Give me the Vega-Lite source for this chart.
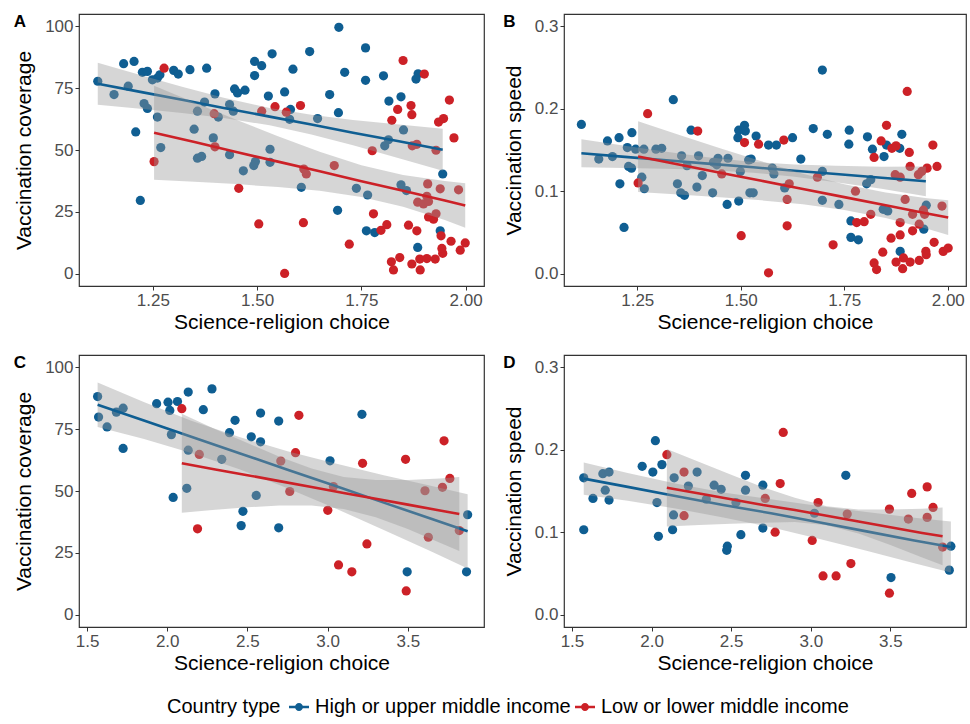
{
"$schema":"https://vega.github.io/schema/vega-lite/v6.json",
"padding":{"left":13,"top":12,"right":2,"bottom":4},
"background":"white",
"config":{"font":"Liberation Sans","view":{"stroke":"#333333","strokeWidth":1.2},
"axis":{"grid":false,"domain":false,"tickColor":"#333333","tickSize":4,"labelColor":"#4d4d4d","labelFontSize":17,"titleFontSize":21,"titleFontWeight":"normal","titleColor":"#000000","labelPadding":2,"titlePadding":3},
"axisY":{"titlePadding":10},
"title":{"fontSize":17,"fontWeight":"bold","anchor":"start","frame":"bounds","baseline":"top","offset":-17}},
"datasets":{
"pts":[
{"p":"A","t":"H","x":1.118,"y":77.8},{"p":"A","t":"H","x":1.157,"y":72.4},{"p":"A","t":"H","x":1.18,"y":84.9},{"p":"A","t":"H","x":1.205,"y":85.8},{"p":"A","t":"H","x":1.191,"y":75.8},{"p":"A","t":"H","x":1.225,"y":81.4},{"p":"A","t":"H","x":1.237,"y":81.8},{"p":"A","t":"H","x":1.249,"y":78.4},{"p":"A","t":"H","x":1.261,"y":79.1},{"p":"A","t":"H","x":1.267,"y":80.4},{"p":"A","t":"H","x":1.3,"y":82.2},{"p":"A","t":"H","x":1.311,"y":80.7},{"p":"A","t":"H","x":1.339,"y":82.5},{"p":"A","t":"H","x":1.379,"y":83.1},{"p":"A","t":"H","x":1.229,"y":68.8},{"p":"A","t":"H","x":1.237,"y":66.8},{"p":"A","t":"H","x":1.261,"y":63.3},{"p":"A","t":"H","x":1.209,"y":57.3},{"p":"A","t":"H","x":1.269,"y":51.0},{"p":"A","t":"H","x":1.22,"y":29.6},{"p":"A","t":"H","x":1.349,"y":58.4},{"p":"A","t":"H","x":1.357,"y":65.7},{"p":"A","t":"H","x":1.374,"y":69.4},{"p":"A","t":"H","x":1.399,"y":72.7},{"p":"A","t":"H","x":1.407,"y":63.3},{"p":"A","t":"H","x":1.395,"y":54.9},{"p":"A","t":"H","x":1.357,"y":46.7},{"p":"A","t":"H","x":1.367,"y":47.4},{"p":"A","t":"H","x":1.434,"y":48.1},{"p":"A","t":"H","x":1.434,"y":68.4},{"p":"A","t":"H","x":1.443,"y":65.7},{"p":"A","t":"H","x":1.446,"y":74.7},{"p":"A","t":"H","x":1.453,"y":73.1},{"p":"A","t":"H","x":1.471,"y":74.2},{"p":"A","t":"H","x":1.467,"y":41.6},{"p":"A","t":"H","x":1.492,"y":43.7},{"p":"A","t":"H","x":1.496,"y":45.3},{"p":"A","t":"H","x":1.494,"y":80.1},{"p":"A","t":"H","x":1.494,"y":85.8},{"p":"A","t":"H","x":1.511,"y":84.1},{"p":"A","t":"H","x":1.536,"y":88.9},{"p":"A","t":"H","x":1.527,"y":71.8},{"p":"A","t":"H","x":1.531,"y":50.3},{"p":"A","t":"H","x":1.531,"y":45.0},{"p":"A","t":"H","x":1.566,"y":73.5},
{"p":"A","t":"H","x":1.696,"y":99.6},{"p":"A","t":"H","x":1.626,"y":89.8},{"p":"A","t":"H","x":1.586,"y":82.7},{"p":"A","t":"H","x":1.58,"y":66.4},{"p":"A","t":"H","x":1.578,"y":62.4},{"p":"A","t":"H","x":1.645,"y":62.7},{"p":"A","t":"H","x":1.674,"y":72.4},{"p":"A","t":"H","x":1.695,"y":65.1},{"p":"A","t":"H","x":1.71,"y":81.4},{"p":"A","t":"H","x":1.76,"y":91.3},{"p":"A","t":"H","x":1.76,"y":78.2},{"p":"A","t":"H","x":1.803,"y":80.0},{"p":"A","t":"H","x":1.886,"y":80.8},{"p":"A","t":"H","x":1.881,"y":78.7},{"p":"A","t":"H","x":1.816,"y":69.8},{"p":"A","t":"H","x":1.845,"y":71.5},{"p":"A","t":"H","x":1.851,"y":58.1},{"p":"A","t":"H","x":1.815,"y":54.1},{"p":"A","t":"H","x":1.806,"y":51.7},{"p":"A","t":"H","x":1.945,"y":40.3},{"p":"A","t":"H","x":1.606,"y":34.9},{"p":"A","t":"H","x":1.738,"y":34.5},{"p":"A","t":"H","x":1.765,"y":31.8},{"p":"A","t":"H","x":1.845,"y":35.9},{"p":"A","t":"H","x":1.858,"y":33.6},{"p":"A","t":"H","x":1.693,"y":25.6},{"p":"A","t":"H","x":1.762,"y":17.3},{"p":"A","t":"H","x":1.782,"y":16.6},{"p":"A","t":"H","x":1.939,"y":17.3},{"p":"A","t":"H","x":1.885,"y":10.6},
{"p":"A","t":"L","x":1.277,"y":83.1},{"p":"A","t":"L","x":1.253,"y":45.3},{"p":"A","t":"L","x":1.397,"y":64.7},{"p":"A","t":"L","x":1.399,"y":51.3},{"p":"A","t":"L","x":1.456,"y":34.5},{"p":"A","t":"L","x":1.504,"y":20.1},{"p":"A","t":"L","x":1.511,"y":65.7},{"p":"A","t":"L","x":1.543,"y":67.5},{"p":"A","t":"L","x":1.566,"y":0.1},{"p":"A","t":"L","x":1.57,"y":65.3},{"p":"A","t":"L","x":1.604,"y":68.0},{"p":"A","t":"L","x":1.85,"y":86.2},{"p":"A","t":"L","x":1.901,"y":80.7},{"p":"A","t":"L","x":1.837,"y":66.4},{"p":"A","t":"L","x":1.869,"y":68.0},{"p":"A","t":"L","x":1.871,"y":64.3},{"p":"A","t":"L","x":1.823,"y":62.0},{"p":"A","t":"L","x":1.961,"y":70.2},{"p":"A","t":"L","x":1.935,"y":61.3},{"p":"A","t":"L","x":1.947,"y":62.7},{"p":"A","t":"L","x":1.972,"y":54.9},{"p":"A","t":"L","x":1.776,"y":49.7},{"p":"A","t":"L","x":1.872,"y":51.7},{"p":"A","t":"L","x":1.883,"y":52.3},{"p":"A","t":"L","x":1.929,"y":49.9},{"p":"A","t":"L","x":1.612,"y":42.3},{"p":"A","t":"L","x":1.618,"y":40.3},{"p":"A","t":"L","x":1.685,"y":43.7},{"p":"A","t":"L","x":1.909,"y":36.3},{"p":"A","t":"L","x":1.939,"y":34.3},{"p":"A","t":"L","x":1.983,"y":33.9},{"p":"A","t":"L","x":1.885,"y":28.9},{"p":"A","t":"L","x":1.899,"y":28.2},{"p":"A","t":"L","x":1.911,"y":29.2},{"p":"A","t":"L","x":1.907,"y":31.3},{"p":"A","t":"L","x":1.911,"y":22.9},{"p":"A","t":"L","x":1.923,"y":22.0},{"p":"A","t":"L","x":1.929,"y":24.2},{"p":"A","t":"L","x":1.779,"y":24.2},{"p":"A","t":"L","x":1.611,"y":20.6},{"p":"A","t":"L","x":1.797,"y":17.5},{"p":"A","t":"L","x":1.811,"y":19.8},{"p":"A","t":"L","x":1.863,"y":19.6},{"p":"A","t":"L","x":1.883,"y":17.3},{"p":"A","t":"L","x":1.941,"y":15.3},{"p":"A","t":"L","x":1.965,"y":13.1},{"p":"A","t":"L","x":1.999,"y":12.4},{"p":"A","t":"L","x":1.987,"y":9.5},{"p":"A","t":"L","x":1.721,"y":11.9},{"p":"A","t":"L","x":1.822,"y":4.8},{"p":"A","t":"L","x":1.842,"y":6.5},{"p":"A","t":"L","x":1.827,"y":1.5},{"p":"A","t":"L","x":1.871,"y":3.9},{"p":"A","t":"L","x":1.89,"y":5.9},{"p":"A","t":"L","x":1.907,"y":6.1},{"p":"A","t":"L","x":1.891,"y":1.5},{"p":"A","t":"L","x":1.927,"y":5.9},{"p":"A","t":"L","x":1.945,"y":8.2},{"p":"A","t":"L","x":1.943,"y":10.2},
{"p":"B","t":"H","x":1.115,"y":0.181},{"p":"B","t":"H","x":1.157,"y":0.139},{"p":"B","t":"H","x":1.178,"y":0.161},{"p":"B","t":"H","x":1.19,"y":0.142},{"p":"B","t":"H","x":1.206,"y":0.165},{"p":"B","t":"H","x":1.208,"y":0.109},{"p":"B","t":"H","x":1.218,"y":0.056},{"p":"B","t":"H","x":1.226,"y":0.153},{"p":"B","t":"H","x":1.229,"y":0.13},{"p":"B","t":"H","x":1.236,"y":0.128},{"p":"B","t":"H","x":1.237,"y":0.171},{"p":"B","t":"H","x":1.246,"y":0.151},{"p":"B","t":"H","x":1.261,"y":0.117},{"p":"B","t":"H","x":1.267,"y":0.103},{"p":"B","t":"H","x":1.266,"y":0.151},{"p":"B","t":"H","x":1.295,"y":0.151},{"p":"B","t":"H","x":1.309,"y":0.152},{"p":"B","t":"H","x":1.337,"y":0.211},{"p":"B","t":"H","x":1.347,"y":0.109},{"p":"B","t":"H","x":1.355,"y":0.098},{"p":"B","t":"H","x":1.364,"y":0.095},{"p":"B","t":"H","x":1.357,"y":0.143},{"p":"B","t":"H","x":1.37,"y":0.131},{"p":"B","t":"H","x":1.38,"y":0.174},{"p":"B","t":"H","x":1.398,"y":0.143},{"p":"B","t":"H","x":1.394,"y":0.105},{"p":"B","t":"H","x":1.407,"y":0.119},{"p":"B","t":"H","x":1.432,"y":0.098},{"p":"B","t":"H","x":1.434,"y":0.135},{"p":"B","t":"H","x":1.445,"y":0.14},{"p":"B","t":"H","x":1.442,"y":0.132},{"p":"B","t":"H","x":1.469,"y":0.14},{"p":"B","t":"H","x":1.467,"y":0.084},{"p":"B","t":"H","x":1.495,"y":0.088},{"p":"B","t":"H","x":1.493,"y":0.165},{"p":"B","t":"H","x":1.495,"y":0.174},{"p":"B","t":"H","x":1.509,"y":0.18},{"p":"B","t":"H","x":1.519,"y":0.138},{"p":"B","t":"H","x":1.499,"y":0.124},{"p":"B","t":"H","x":1.522,"y":0.098},
{"p":"B","t":"H","x":1.511,"y":0.173},{"p":"B","t":"H","x":1.525,"y":0.139},{"p":"B","t":"H","x":1.53,"y":0.098},{"p":"B","t":"H","x":1.537,"y":0.167},{"p":"B","t":"H","x":1.567,"y":0.156},{"p":"B","t":"H","x":1.586,"y":0.156},{"p":"B","t":"H","x":1.576,"y":0.128},{"p":"B","t":"H","x":1.58,"y":0.121},{"p":"B","t":"H","x":1.625,"y":0.165},{"p":"B","t":"H","x":1.606,"y":0.104},{"p":"B","t":"H","x":1.645,"y":0.139},{"p":"B","t":"H","x":1.675,"y":0.176},{"p":"B","t":"H","x":1.697,"y":0.247},{"p":"B","t":"H","x":1.709,"y":0.169},{"p":"B","t":"H","x":1.697,"y":0.124},{"p":"B","t":"H","x":1.697,"y":0.089},{"p":"B","t":"H","x":1.737,"y":0.084},{"p":"B","t":"H","x":1.762,"y":0.174},{"p":"B","t":"H","x":1.761,"y":0.157},{"p":"B","t":"H","x":1.766,"y":0.064},{"p":"B","t":"H","x":1.766,"y":0.044},{"p":"B","t":"H","x":1.784,"y":0.041},{"p":"B","t":"H","x":1.806,"y":0.166},{"p":"B","t":"H","x":1.818,"y":0.151},{"p":"B","t":"H","x":1.804,"y":0.109},{"p":"B","t":"H","x":1.814,"y":0.114},{"p":"B","t":"H","x":1.846,"y":0.142},{"p":"B","t":"H","x":1.852,"y":0.156},{"p":"B","t":"H","x":1.884,"y":0.152},{"p":"B","t":"H","x":1.889,"y":0.169},{"p":"B","t":"H","x":1.844,"y":0.078},{"p":"B","t":"H","x":1.855,"y":0.076},{"p":"B","t":"H","x":1.942,"y":0.054},{"p":"B","t":"H","x":1.885,"y":0.027},{"p":"B","t":"H","x":1.948,"y":0.083},
{"p":"B","t":"L","x":1.252,"y":0.11},{"p":"B","t":"L","x":1.275,"y":0.194},{"p":"B","t":"L","x":1.396,"y":0.173},{"p":"B","t":"L","x":1.454,"y":0.121},{"p":"B","t":"L","x":1.509,"y":0.159},{"p":"B","t":"L","x":1.501,"y":0.046},{"p":"B","t":"L","x":1.543,"y":0.157},{"p":"B","t":"L","x":1.567,"y":0.001},{"p":"B","t":"L","x":1.604,"y":0.162},{"p":"B","t":"L","x":1.612,"y":0.09},{"p":"B","t":"L","x":1.617,"y":0.109},{"p":"B","t":"L","x":1.612,"y":0.058},{"p":"B","t":"L","x":1.685,"y":0.117},{"p":"B","t":"L","x":1.723,"y":0.035},{"p":"B","t":"L","x":1.777,"y":0.1},{"p":"B","t":"L","x":1.78,"y":0.062},{"p":"B","t":"L","x":1.798,"y":0.063},{"p":"B","t":"L","x":1.814,"y":0.072},{"p":"B","t":"L","x":1.822,"y":0.141},{"p":"B","t":"L","x":1.852,"y":0.18},{"p":"B","t":"L","x":1.839,"y":0.161},{"p":"B","t":"L","x":1.865,"y":0.152},{"p":"B","t":"L","x":1.875,"y":0.155},{"p":"B","t":"L","x":1.907,"y":0.147},{"p":"B","t":"L","x":1.902,"y":0.221},{"p":"B","t":"L","x":1.909,"y":0.13},{"p":"B","t":"L","x":1.873,"y":0.12},{"p":"B","t":"L","x":1.885,"y":0.117},{"p":"B","t":"L","x":1.897,"y":0.09},{"p":"B","t":"L","x":1.915,"y":0.072},{"p":"B","t":"L","x":1.931,"y":0.06},{"p":"B","t":"L","x":1.915,"y":0.052},{"p":"B","t":"L","x":1.885,"y":0.062},{"p":"B","t":"L","x":1.863,"y":0.043},{"p":"B","t":"L","x":1.885,"y":0.047},{"p":"B","t":"L","x":1.843,"y":0.026},{"p":"B","t":"L","x":1.822,"y":0.013},{"p":"B","t":"L","x":1.828,"y":0.005},{"p":"B","t":"L","x":1.875,"y":0.014},{"p":"B","t":"L","x":1.893,"y":0.019},{"p":"B","t":"L","x":1.891,"y":0.006},{"p":"B","t":"L","x":1.909,"y":0.014},{"p":"B","t":"L","x":1.931,"y":0.016},{"p":"B","t":"L","x":1.947,"y":0.027},{"p":"B","t":"L","x":1.948,"y":0.023},{"p":"B","t":"L","x":1.967,"y":0.038},{"p":"B","t":"L","x":1.989,"y":0.027},{"p":"B","t":"L","x":2.001,"y":0.031},{"p":"B","t":"L","x":1.944,"y":0.072},{"p":"B","t":"L","x":1.929,"y":0.12},{"p":"B","t":"L","x":1.937,"y":0.124},{"p":"B","t":"L","x":1.95,"y":0.128},{"p":"B","t":"L","x":1.941,"y":0.077},{"p":"B","t":"L","x":1.986,"y":0.082},{"p":"B","t":"L","x":1.974,"y":0.13},{"p":"B","t":"L","x":1.964,"y":0.156},
{"p":"C","t":"H","x":1.566,"y":88.2},{"p":"C","t":"H","x":1.572,"y":79.9},{"p":"C","t":"H","x":1.625,"y":75.9},{"p":"C","t":"H","x":1.683,"y":81.9},{"p":"C","t":"H","x":1.725,"y":83.5},{"p":"C","t":"H","x":1.725,"y":67.2},{"p":"C","t":"H","x":1.934,"y":85.3},{"p":"C","t":"H","x":2.005,"y":85.9},{"p":"C","t":"H","x":2.016,"y":82.6},{"p":"C","t":"H","x":2.064,"y":86.2},{"p":"C","t":"H","x":2.131,"y":90.0},{"p":"C","t":"H","x":2.225,"y":82.9},{"p":"C","t":"H","x":2.279,"y":91.3},{"p":"C","t":"H","x":2.026,"y":72.8},{"p":"C","t":"H","x":2.131,"y":66.5},{"p":"C","t":"H","x":2.34,"y":62.8},{"p":"C","t":"H","x":2.388,"y":73.6},{"p":"C","t":"H","x":2.423,"y":78.6},{"p":"C","t":"H","x":2.524,"y":71.9},{"p":"C","t":"H","x":2.582,"y":69.9},{"p":"C","t":"H","x":2.582,"y":81.5},{"p":"C","t":"H","x":2.695,"y":78.3},{"p":"C","t":"H","x":2.037,"y":47.4},{"p":"C","t":"H","x":2.122,"y":51.1},{"p":"C","t":"H","x":2.472,"y":41.8},{"p":"C","t":"H","x":2.461,"y":36.0},{"p":"C","t":"H","x":2.555,"y":48.2},{"p":"C","t":"H","x":2.695,"y":35.1},{"p":"C","t":"H","x":3.015,"y":62.2},{"p":"C","t":"H","x":3.214,"y":81.0},{"p":"C","t":"H","x":3.873,"y":40.4},{"p":"C","t":"H","x":3.866,"y":17.3},{"p":"C","t":"H","x":3.496,"y":17.3},
{"p":"C","t":"L","x":2.091,"y":83.3},{"p":"C","t":"L","x":2.2,"y":64.8},{"p":"C","t":"L","x":2.189,"y":34.7},{"p":"C","t":"L","x":2.708,"y":62.1},{"p":"C","t":"L","x":2.764,"y":49.8},{"p":"C","t":"L","x":2.821,"y":80.6},{"p":"C","t":"L","x":3.726,"y":70.3},{"p":"C","t":"L","x":2.8,"y":65.5},{"p":"C","t":"L","x":3.036,"y":51.8},{"p":"C","t":"L","x":3.001,"y":42.2},{"p":"C","t":"L","x":3.218,"y":61.2},{"p":"C","t":"L","x":3.486,"y":62.8},{"p":"C","t":"L","x":3.607,"y":50.1},{"p":"C","t":"L","x":3.716,"y":51.5},{"p":"C","t":"L","x":3.762,"y":55.1},{"p":"C","t":"L","x":3.628,"y":31.3},{"p":"C","t":"L","x":3.821,"y":34.0},{"p":"C","t":"L","x":3.49,"y":9.6},{"p":"C","t":"L","x":3.245,"y":28.6},{"p":"C","t":"L","x":3.068,"y":20.1},{"p":"C","t":"L","x":3.151,"y":17.3},
{"p":"D","t":"H","x":1.574,"y":0.166},{"p":"D","t":"H","x":1.574,"y":0.103},{"p":"D","t":"H","x":1.632,"y":0.141},{"p":"D","t":"H","x":1.694,"y":0.171},{"p":"D","t":"H","x":1.733,"y":0.173},{"p":"D","t":"H","x":1.709,"y":0.151},{"p":"D","t":"H","x":1.733,"y":0.139},{"p":"D","t":"H","x":1.941,"y":0.18},{"p":"D","t":"H","x":2.008,"y":0.173},{"p":"D","t":"H","x":2.024,"y":0.211},{"p":"D","t":"H","x":2.065,"y":0.182},{"p":"D","t":"H","x":2.034,"y":0.136},{"p":"D","t":"H","x":2.043,"y":0.095},{"p":"D","t":"H","x":2.142,"y":0.166},{"p":"D","t":"H","x":2.138,"y":0.121},{"p":"D","t":"H","x":2.132,"y":0.103},{"p":"D","t":"H","x":2.231,"y":0.156},{"p":"D","t":"H","x":2.286,"y":0.173},{"p":"D","t":"H","x":2.344,"y":0.14},{"p":"D","t":"H","x":2.393,"y":0.157},{"p":"D","t":"H","x":2.437,"y":0.152},{"p":"D","t":"H","x":2.476,"y":0.083},{"p":"D","t":"H","x":2.472,"y":0.078},{"p":"D","t":"H","x":2.53,"y":0.136},{"p":"D","t":"H","x":2.561,"y":0.097},{"p":"D","t":"H","x":2.59,"y":0.169},{"p":"D","t":"H","x":2.59,"y":0.151},{"p":"D","t":"H","x":2.699,"y":0.157},{"p":"D","t":"H","x":2.699,"y":0.105},{"p":"D","t":"H","x":3.023,"y":0.123},{"p":"D","t":"H","x":3.22,"y":0.169},{"p":"D","t":"H","x":3.504,"y":0.045},{"p":"D","t":"H","x":3.88,"y":0.083},{"p":"D","t":"H","x":3.87,"y":0.054},
{"p":"D","t":"L","x":2.096,"y":0.194},{"p":"D","t":"L","x":2.204,"y":0.173},{"p":"D","t":"L","x":2.204,"y":0.12},{"p":"D","t":"L","x":2.714,"y":0.141},{"p":"D","t":"L","x":2.776,"y":0.1},{"p":"D","t":"L","x":2.808,"y":0.159},{"p":"D","t":"L","x":2.827,"y":0.221},{"p":"D","t":"L","x":3.009,"y":0.09},{"p":"D","t":"L","x":3.046,"y":0.136},{"p":"D","t":"L","x":3.077,"y":0.047},{"p":"D","t":"L","x":3.159,"y":0.047},{"p":"D","t":"L","x":3.252,"y":0.062},{"p":"D","t":"L","x":3.229,"y":0.122},{"p":"D","t":"L","x":3.494,"y":0.128},{"p":"D","t":"L","x":3.494,"y":0.026},{"p":"D","t":"L","x":3.613,"y":0.116},{"p":"D","t":"L","x":3.634,"y":0.147},{"p":"D","t":"L","x":3.731,"y":0.155},{"p":"D","t":"L","x":3.731,"y":0.118},{"p":"D","t":"L","x":3.768,"y":0.13},{"p":"D","t":"L","x":3.828,"y":0.082}
],
"fit":[
{"p":"A","t":"H","x":1.118,"f":76.8,"lo":68.3,"hi":85.3},{"p":"A","t":"H","x":1.22,"f":73.5,"lo":66.7,"hi":80.3},{"p":"A","t":"H","x":1.32,"f":70.3,"lo":65.0,"hi":75.6},{"p":"A","t":"H","x":1.42,"f":67.0,"lo":62.9,"hi":71.1},{"p":"A","t":"H","x":1.53,"f":63.5,"lo":60.0,"hi":67.0},{"p":"A","t":"H","x":1.63,"f":60.3,"lo":56.3,"hi":64.3},{"p":"A","t":"H","x":1.73,"f":57.0,"lo":51.9,"hi":62.1},{"p":"A","t":"H","x":1.84,"f":53.5,"lo":46.7,"hi":60.3},{"p":"A","t":"H","x":1.945,"f":50.1,"lo":41.6,"hi":58.6},
{"p":"A","t":"L","x":1.253,"f":57.0,"lo":38.0,"hi":76.0},{"p":"A","t":"L","x":1.35,"f":53.2,"lo":37.2,"hi":69.2},{"p":"A","t":"L","x":1.45,"f":49.2,"lo":36.2,"hi":62.2},{"p":"A","t":"L","x":1.55,"f":45.3,"lo":35.0,"hi":55.6},{"p":"A","t":"L","x":1.65,"f":41.4,"lo":33.5,"hi":49.3},{"p":"A","t":"L","x":1.75,"f":37.4,"lo":31.0,"hi":43.8},{"p":"A","t":"L","x":1.85,"f":33.5,"lo":27.1,"hi":39.9},{"p":"A","t":"L","x":1.95,"f":29.6,"lo":21.7,"hi":37.5},{"p":"A","t":"L","x":1.999,"f":27.6,"lo":18.6,"hi":36.6},
{"p":"B","t":"H","x":1.115,"f":0.146,"lo":0.129,"hi":0.163},{"p":"B","t":"H","x":1.22,"f":0.1417,"lo":0.1283,"hi":0.1551},{"p":"B","t":"H","x":1.32,"f":0.1376,"lo":0.1273,"hi":0.1479},{"p":"B","t":"H","x":1.42,"f":0.1335,"lo":0.1258,"hi":0.1412},{"p":"B","t":"H","x":1.53,"f":0.129,"lo":0.1225,"hi":0.1355},{"p":"B","t":"H","x":1.63,"f":0.1249,"lo":0.1174,"hi":0.1324},{"p":"B","t":"H","x":1.73,"f":0.1208,"lo":0.1108,"hi":0.1308},{"p":"B","t":"H","x":1.84,"f":0.1163,"lo":0.1029,"hi":0.1297},{"p":"B","t":"H","x":1.947,"f":0.112,"lo":0.094,"hi":0.13},
{"p":"B","t":"L","x":1.252,"f":0.142,"lo":0.099,"hi":0.185},{"p":"B","t":"L","x":1.35,"f":0.1323,"lo":0.096,"hi":0.1686},{"p":"B","t":"L","x":1.45,"f":0.1224,"lo":0.0926,"hi":0.1522},{"p":"B","t":"L","x":1.55,"f":0.1126,"lo":0.0889,"hi":0.1363},{"p":"B","t":"L","x":1.65,"f":0.1027,"lo":0.0841,"hi":0.1213},{"p":"B","t":"L","x":1.75,"f":0.0928,"lo":0.0773,"hi":0.1083},{"p":"B","t":"L","x":1.85,"f":0.0829,"lo":0.0674,"hi":0.0984},{"p":"B","t":"L","x":1.95,"f":0.073,"lo":0.0544,"hi":0.0916},{"p":"B","t":"L","x":2.001,"f":0.068,"lo":0.0469,"hi":0.0891},
{"p":"C","t":"H","x":1.566,"f":84.9,"lo":75.9,"hi":93.9},{"p":"C","t":"H","x":1.85,"f":78.6,"lo":71.1,"hi":86.1},{"p":"C","t":"H","x":2.15,"f":71.9,"lo":65.4,"hi":78.4},{"p":"C","t":"H","x":2.45,"f":65.3,"lo":58.8,"hi":71.8},{"p":"C","t":"H","x":2.75,"f":58.6,"lo":51.1,"hi":66.1},{"p":"C","t":"H","x":3.05,"f":52.0,"lo":42.9,"hi":61.1},{"p":"C","t":"H","x":3.35,"f":45.3,"lo":34.2,"hi":56.4},{"p":"C","t":"H","x":3.65,"f":38.7,"lo":25.4,"hi":52.0},{"p":"C","t":"H","x":3.873,"f":33.7,"lo":18.7,"hi":48.7},
{"p":"C","t":"L","x":2.091,"f":61.2,"lo":41.2,"hi":81.2},{"p":"C","t":"L","x":2.3,"f":58.7,"lo":42.4,"hi":75.0},{"p":"C","t":"L","x":2.5,"f":56.4,"lo":43.4,"hi":69.4},{"p":"C","t":"L","x":2.7,"f":54.0,"lo":44.1,"hi":63.9},{"p":"C","t":"L","x":2.9,"f":51.6,"lo":44.1,"hi":59.1},{"p":"C","t":"L","x":3.1,"f":49.2,"lo":42.7,"hi":55.7},{"p":"C","t":"L","x":3.3,"f":46.9,"lo":39.4,"hi":54.4},{"p":"C","t":"L","x":3.5,"f":44.5,"lo":34.6,"hi":54.4},{"p":"C","t":"L","x":3.7,"f":42.1,"lo":29.1,"hi":55.1},{"p":"C","t":"L","x":3.821,"f":40.7,"lo":25.7,"hi":55.7},
{"p":"D","t":"H","x":1.574,"f":0.165,"lo":0.1455,"hi":0.1845},{"p":"D","t":"H","x":1.85,"f":0.155,"lo":0.1381,"hi":0.1719},{"p":"D","t":"H","x":2.15,"f":0.144,"lo":0.1288,"hi":0.1592},{"p":"D","t":"H","x":2.45,"f":0.133,"lo":0.1178,"hi":0.1482},{"p":"D","t":"H","x":2.75,"f":0.123,"lo":0.1061,"hi":0.1399},{"p":"D","t":"H","x":3.05,"f":0.112,"lo":0.0922,"hi":0.1318},{"p":"D","t":"H","x":3.35,"f":0.101,"lo":0.0775,"hi":0.1245},{"p":"D","t":"H","x":3.65,"f":0.09,"lo":0.0624,"hi":0.1176},{"p":"D","t":"H","x":3.88,"f":0.082,"lo":0.051,"hi":0.113},
{"p":"D","t":"L","x":2.096,"f":0.154,"lo":0.107,"hi":0.201},{"p":"D","t":"L","x":2.3,"f":0.147,"lo":0.1089,"hi":0.1851},{"p":"D","t":"L","x":2.5,"f":0.14,"lo":0.1104,"hi":0.1696},{"p":"D","t":"L","x":2.7,"f":0.133,"lo":0.1114,"hi":0.1546},{"p":"D","t":"L","x":2.9,"f":0.127,"lo":0.1123,"hi":0.1417},{"p":"D","t":"L","x":3.1,"f":0.12,"lo":0.1084,"hi":0.1316},{"p":"D","t":"L","x":3.3,"f":0.113,"lo":0.0983,"hi":0.1277},{"p":"D","t":"L","x":3.5,"f":0.106,"lo":0.0844,"hi":0.1276},{"p":"D","t":"L","x":3.7,"f":0.099,"lo":0.0694,"hi":0.1286},{"p":"D","t":"L","x":3.828,"f":0.095,"lo":0.06,"hi":0.13}
]},
"spacing":20,
"vconcat":[
{"spacing":17,"hconcat":[
{"width":405,"height":272,"title":{"text":"A"},
"layer":[
{"data":{"name":"pts"},"transform":[{"filter":"datum.p=='A'"}],"mark":{"type":"circle","size":85,"opacity":1},
"encoding":{"x":{"field":"x","type":"quantitative","title":"Science-religion choice","scale":{"domain":[1.073,2.044],"nice":false,"zero":false},"axis":{"values":[1.25,1.5,1.75,2.0],"format":".2f"}},
"y":{"field":"y","type":"quantitative","title":"Vaccination coverage","scale":{"domain":[-5,105],"nice":false,"zero":false},"axis":{"values":[0,25,50,75,100]}},
"color":{"field":"t","type":"nominal","scale":{"domain":["H","L"],"range":["#0f5e92","#cc2127"]},"legend":{"title":"Country type","orient":"none","legendX":88,"legendY":683,"direction":"horizontal","titleOrient":"left","titleFontSize":20,"titleFontWeight":"normal","titleColor":"#000000","titlePadding":8,"labelFontSize":20,"labelColor":"#000000","labelLimit":0,"symbolSize":400,"symbolStrokeWidth":0,"symbolOpacity":1,"symbolType":"M-1,-0.12L1,-0.12L1,0.12L-1,0.12Z M0.4,0A0.4,0.4,0,1,1,-0.4,0A0.4,0.4,0,1,1,0.4,0Z","labelExpr":"datum.value=='H' ? 'High or upper middle income' : 'Low or lower middle income'","columnPadding":4,"labelOffset":6}}}},
{"data":{"name":"fit"},"transform":[{"filter":"datum.p=='A' && datum.t=='H'"}],"mark":{"type":"area","color":"#999999","opacity":0.4},"encoding":{"x":{"field":"x","type":"quantitative","title":"Science-religion choice"},"y":{"field":"lo","type":"quantitative","title":"Vaccination coverage"},"y2":{"field":"hi"}}},
{"data":{"name":"fit"},"transform":[{"filter":"datum.p=='A' && datum.t=='H'"}],"mark":{"type":"line","color":"#0f5e92","strokeWidth":2.6},"encoding":{"x":{"field":"x","type":"quantitative","title":"Science-religion choice"},"y":{"field":"f","type":"quantitative","title":"Vaccination coverage"}}},
{"data":{"name":"fit"},"transform":[{"filter":"datum.p=='A' && datum.t=='L'"}],"mark":{"type":"area","color":"#999999","opacity":0.4},"encoding":{"x":{"field":"x","type":"quantitative","title":"Science-religion choice"},"y":{"field":"lo","type":"quantitative","title":"Vaccination coverage"},"y2":{"field":"hi"}}},
{"data":{"name":"fit"},"transform":[{"filter":"datum.p=='A' && datum.t=='L'"}],"mark":{"type":"line","color":"#cc2127","strokeWidth":2.6},"encoding":{"x":{"field":"x","type":"quantitative","title":"Science-religion choice"},"y":{"field":"f","type":"quantitative","title":"Vaccination coverage"}}}
]},
{"width":402,"height":272,"title":{"text":"B"},
"layer":[
{"data":{"name":"pts"},"transform":[{"filter":"datum.p=='B'"}],"mark":{"type":"circle","size":85,"opacity":1},
"encoding":{"x":{"field":"x","type":"quantitative","title":"Science-religion choice","scale":{"domain":[1.073,2.044],"nice":false,"zero":false},"axis":{"values":[1.25,1.5,1.75,2.0],"format":".2f"}},
"y":{"field":"y","type":"quantitative","title":"Vaccination speed","scale":{"domain":[-0.015,0.315],"nice":false,"zero":false},"axis":{"values":[0,0.1,0.2,0.3],"format":".1f"}},
"color":{"field":"t","type":"nominal","scale":{"domain":["H","L"],"range":["#0f5e92","#cc2127"]}}}},
{"data":{"name":"fit"},"transform":[{"filter":"datum.p=='B' && datum.t=='H'"}],"mark":{"type":"area","color":"#999999","opacity":0.4},"encoding":{"x":{"field":"x","type":"quantitative","title":"Science-religion choice"},"y":{"field":"lo","type":"quantitative","title":"Vaccination speed"},"y2":{"field":"hi"}}},
{"data":{"name":"fit"},"transform":[{"filter":"datum.p=='B' && datum.t=='H'"}],"mark":{"type":"line","color":"#0f5e92","strokeWidth":2.6},"encoding":{"x":{"field":"x","type":"quantitative","title":"Science-religion choice"},"y":{"field":"f","type":"quantitative","title":"Vaccination speed"}}},
{"data":{"name":"fit"},"transform":[{"filter":"datum.p=='B' && datum.t=='L'"}],"mark":{"type":"area","color":"#999999","opacity":0.4},"encoding":{"x":{"field":"x","type":"quantitative","title":"Science-religion choice"},"y":{"field":"lo","type":"quantitative","title":"Vaccination speed"},"y2":{"field":"hi"}}},
{"data":{"name":"fit"},"transform":[{"filter":"datum.p=='B' && datum.t=='L'"}],"mark":{"type":"line","color":"#cc2127","strokeWidth":2.6},"encoding":{"x":{"field":"x","type":"quantitative","title":"Science-religion choice"},"y":{"field":"f","type":"quantitative","title":"Vaccination speed"}}}
]}
]},
{"spacing":17,"hconcat":[
{"width":405,"height":272,"title":{"text":"C"},
"layer":[
{"data":{"name":"pts"},"transform":[{"filter":"datum.p=='C'"}],"mark":{"type":"circle","size":85,"opacity":1},
"encoding":{"x":{"field":"x","type":"quantitative","title":"Science-religion choice","scale":{"domain":[1.45,3.975],"nice":false,"zero":false},"axis":{"values":[1.5,2,2.5,3,3.5],"format":".1f"}},
"y":{"field":"y","type":"quantitative","title":"Vaccination coverage","scale":{"domain":[-5,105],"nice":false,"zero":false},"axis":{"values":[0,25,50,75,100]}},
"color":{"field":"t","type":"nominal","scale":{"domain":["H","L"],"range":["#0f5e92","#cc2127"]}}}},
{"data":{"name":"fit"},"transform":[{"filter":"datum.p=='C' && datum.t=='H'"}],"mark":{"type":"area","color":"#999999","opacity":0.4},"encoding":{"x":{"field":"x","type":"quantitative","title":"Science-religion choice"},"y":{"field":"lo","type":"quantitative","title":"Vaccination coverage"},"y2":{"field":"hi"}}},
{"data":{"name":"fit"},"transform":[{"filter":"datum.p=='C' && datum.t=='H'"}],"mark":{"type":"line","color":"#0f5e92","strokeWidth":2.6},"encoding":{"x":{"field":"x","type":"quantitative","title":"Science-religion choice"},"y":{"field":"f","type":"quantitative","title":"Vaccination coverage"}}},
{"data":{"name":"fit"},"transform":[{"filter":"datum.p=='C' && datum.t=='L'"}],"mark":{"type":"area","color":"#999999","opacity":0.4},"encoding":{"x":{"field":"x","type":"quantitative","title":"Science-religion choice"},"y":{"field":"lo","type":"quantitative","title":"Vaccination coverage"},"y2":{"field":"hi"}}},
{"data":{"name":"fit"},"transform":[{"filter":"datum.p=='C' && datum.t=='L'"}],"mark":{"type":"line","color":"#cc2127","strokeWidth":2.6},"encoding":{"x":{"field":"x","type":"quantitative","title":"Science-religion choice"},"y":{"field":"f","type":"quantitative","title":"Vaccination coverage"}}}
]},
{"width":402,"height":272,"title":{"text":"D"},
"layer":[
{"data":{"name":"pts"},"transform":[{"filter":"datum.p=='D'"}],"mark":{"type":"circle","size":85,"opacity":1},
"encoding":{"x":{"field":"x","type":"quantitative","title":"Science-religion choice","scale":{"domain":[1.45,3.975],"nice":false,"zero":false},"axis":{"values":[1.5,2,2.5,3,3.5],"format":".1f"}},
"y":{"field":"y","type":"quantitative","title":"Vaccination speed","scale":{"domain":[-0.015,0.315],"nice":false,"zero":false},"axis":{"values":[0,0.1,0.2,0.3],"format":".1f"}},
"color":{"field":"t","type":"nominal","scale":{"domain":["H","L"],"range":["#0f5e92","#cc2127"]}}}},
{"data":{"name":"fit"},"transform":[{"filter":"datum.p=='D' && datum.t=='H'"}],"mark":{"type":"area","color":"#999999","opacity":0.4},"encoding":{"x":{"field":"x","type":"quantitative","title":"Science-religion choice"},"y":{"field":"lo","type":"quantitative","title":"Vaccination speed"},"y2":{"field":"hi"}}},
{"data":{"name":"fit"},"transform":[{"filter":"datum.p=='D' && datum.t=='H'"}],"mark":{"type":"line","color":"#0f5e92","strokeWidth":2.6},"encoding":{"x":{"field":"x","type":"quantitative","title":"Science-religion choice"},"y":{"field":"f","type":"quantitative","title":"Vaccination speed"}}},
{"data":{"name":"fit"},"transform":[{"filter":"datum.p=='D' && datum.t=='L'"}],"mark":{"type":"area","color":"#999999","opacity":0.4},"encoding":{"x":{"field":"x","type":"quantitative","title":"Science-religion choice"},"y":{"field":"lo","type":"quantitative","title":"Vaccination speed"},"y2":{"field":"hi"}}},
{"data":{"name":"fit"},"transform":[{"filter":"datum.p=='D' && datum.t=='L'"}],"mark":{"type":"line","color":"#cc2127","strokeWidth":2.6},"encoding":{"x":{"field":"x","type":"quantitative","title":"Science-religion choice"},"y":{"field":"f","type":"quantitative","title":"Vaccination speed"}}}
]}
]}
]
}
